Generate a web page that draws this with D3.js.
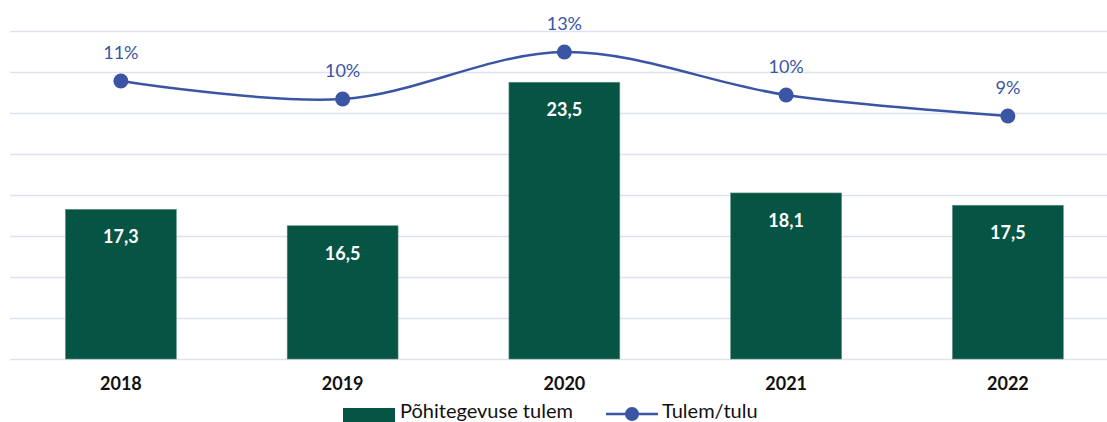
<!DOCTYPE html>
<html>
<head>
<meta charset="utf-8">
<script src="https://cdn.jsdelivr.net/npm/d3@7"></script>
<style>
  body { margin: 0; background: #fff; }
  text { font-family: Lato, "Open Sans", sans-serif; }
</style>
</head>
<body>
<div id="chart"></div>
<script>
const years = ["2018", "2019", "2020", "2021", "2022"];
const tulem = [17.3, 16.5, 23.5, 18.1, 17.5];
const suhe = [10.95, 9.85, 12.72, 10.1, 8.82];
const yTicks = [10, 12, 14, 16, 18, 20, 22, 24, 26];

const W = 1107, H = 422;
const plotTop = 31, plotBottom = 359;

const svg = d3.select("#chart")
  .append("svg")
    .attr("width", W)
    .attr("height", H);

const x = d3.scaleBand()
  .domain(years)
  .range([10, 1118.75])
  .paddingInner(0.5)
  .paddingOuter(0.25);

const y = d3.scaleLinear()
  .domain([10, 26])
  .range([plotBottom, plotTop]);

// secondary axis (hidden) for the ratio line
const y2 = d3.scaleLinear()
  .domain([-6, 14])
  .range([plotBottom, plotTop]);

// gridlines
const grid = svg.append("g")
  .attr("transform", "translate(10,0)")
  .call(d3.axisRight(y).tickValues(yTicks).tickSize(W).tickFormat(""));
grid.select(".domain").remove();
grid.selectAll("line")
  .attr("stroke", "#dde1f2")
  .attr("stroke-width", 1.5);

// bars
svg.selectAll("rect.bar")
  .data(tulem)
  .join("rect")
    .attr("class", "bar")
    .attr("x", (d, i) => x(years[i]))
    .attr("y", d => y(d))
    .attr("width", x.bandwidth())
    .attr("height", d => plotBottom - y(d))
    .attr("fill", "#065443")
    .attr("stroke", "#5f8f80")
    .attr("stroke-width", 0.6);

svg.selectAll("text.barlbl")
  .data(tulem)
  .join("text")
    .attr("class", "barlbl")
    .attr("x", (d, i) => x(years[i]) + x.bandwidth() / 2)
    .attr("y", d => y(d) + 34)
    .attr("text-anchor", "middle")
    .attr("fill", "#fff")
    .attr("font-weight", "bold")
    .attr("font-size", 18)
    .text(d => d3.format(".1f")(d).replace(".", ","));

// x axis labels
const xAxis = svg.append("g")
  .attr("transform", `translate(0,${plotBottom})`)
  .call(d3.axisBottom(x).tickSize(0).tickPadding(18));
xAxis.select(".domain").remove();
xAxis.selectAll("text")
  .attr("font-size", 18)
  .attr("font-weight", "bold")
  .attr("fill", "#111")
  .style("font-family", "Lato, sans-serif");

// line
const cx = (d, i) => x(years[i]) + x.bandwidth() / 2;
const line = d3.line()
  .x(cx)
  .y(d => y2(d))
  .curve(d3.curveCatmullRom.alpha(0));

svg.append("path")
  .datum(suhe)
  .attr("d", line)
  .attr("fill", "none")
  .attr("stroke", "#3a55a4")
  .attr("stroke-width", 2.5);

svg.selectAll("circle.pt")
  .data(suhe)
  .join("circle")
    .attr("class", "pt")
    .attr("cx", cx)
    .attr("cy", d => y2(d))
    .attr("r", 7.5)
    .attr("fill", "#3a55a4");

svg.selectAll("text.pct")
  .data(suhe)
  .join("text")
    .attr("class", "pct")
    .attr("x", cx)
    .attr("y", d => y2(d) - 22)
    .attr("text-anchor", "middle")
    .attr("fill", "#3a55a4")
    .attr("font-size", 18)
    .text(d => Math.round(d) + "%");

// legend
const leg = svg.append("g").attr("transform", "translate(0,414)");
leg.append("rect")
  .attr("x", 343).attr("y", -6)
  .attr("width", 52).attr("height", 14)
  .attr("fill", "#065443");
leg.append("text")
  .attr("x", 400).attr("y", 4)
  .attr("font-size", 20)
  .attr("fill", "#111")
  .text("Põhitegevuse tulem");
leg.append("line")
  .attr("x1", 606).attr("x2", 658)
  .attr("y1", 0).attr("y2", 0)
  .attr("stroke", "#3a55a4")
  .attr("stroke-width", 2.5);
leg.append("circle")
  .attr("cx", 632).attr("cy", 0).attr("r", 7)
  .attr("fill", "#3a55a4");
leg.append("text")
  .attr("x", 662).attr("y", 4)
  .attr("font-size", 20)
  .attr("fill", "#111")
  .text("Tulem/tulu");
</script>
</body>
</html>
